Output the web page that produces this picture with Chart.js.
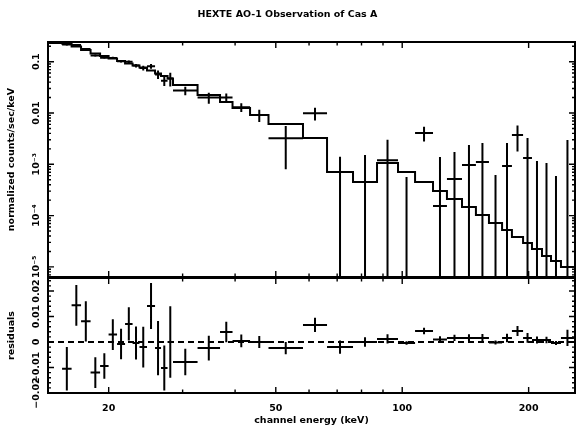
<!DOCTYPE html>
<html>
<head>
<meta charset="utf-8">
<script src="https://cdn.jsdelivr.net/npm/chart.js@4.4.0/dist/chart.umd.min.js"></script>
<style>
    html, body { margin: 0; padding: 0; background: #fff; }
    #wrap { position: relative; width: 578px; height: 429px; }
    #topBox { position: absolute; left: 0; top: 0; }
    #botBox { position: absolute; left: 0; top: 277px; }
</style>
</head>
<body>
<div id="wrap">
    <div id="topBox"><canvas id="specChart" width="578" height="278"></canvas></div>
    <div id="botBox"><canvas id="resChart" width="578" height="152"></canvas></div>
</div>
<script>
// channel bin edges (keV)
const binEdges = [14.34, 15.49, 16.32, 17.19, 18.11, 19.08, 19.99, 20.94, 21.88, 22.80,
    23.68, 24.68, 25.79, 26.65, 27.62, 28.46, 32.56, 36.83, 39.44, 43.42,
    48.04, 58.04, 66.22, 76.36, 87.10, 97.72, 107.3, 118.4, 127.8, 138.8,
    149.8, 160.9, 172.9, 182.5, 194.0, 203.7, 215.2, 226.1, 238.8, 256.4];

// folded model, counts/sec/keV
const modelRate = [0.2314, 0.2264, 0.1978, 0.1690, 0.1445, 0.1292, 0.1154, 0.1032, 0.0922, 0.0843,
    0.0771, 0.0674, 0.0589, 0.0526, 0.0470, 0.0351, 0.02244, 0.01639, 0.01252, 0.00914,
    0.00610, 0.00326, 7.08e-4, 4.52e-4, 1.06e-3, 7.08e-4, 4.52e-4, 3.02e-4, 2.11e-4, 1.47e-4,
    1.03e-4, 7.17e-5, 5.24e-5, 3.83e-5, 2.92e-5, 2.23e-5, 1.63e-5, 1.30e-5, 9.96e-6];

// measured rate and 1-sigma error
const dataRate = [null, 0.2159, 0.2122, 0.1771, 0.1325, 0.1198, 0.1183, 0.1024, 0.0993, 0.0839,
    0.0751, 0.0815, 0.0565, 0.0424, 0.0470, 0.0273, 0.0200, 0.0200, 0.0129, 0.0091,
    0.0032, 0.0099, -0.0012, -0.0003, 0.0012, -0.0001, 0.00407, 1.54e-4, 5.17e-4, 9.68e-4,
    1.11e-3, -0.0002, 9.27e-4, 3.73e-3, 1.33e-3, -0.0002, -0.0002, -0.0002, -0.0002];
const dataErr = [null, 0.0085, 0.008, 0.0079, 0.006, 0.005, 0.006, 0.006, 0.0065, 0.0065,
    0.008, 0.009, 0.0106, 0.0088, 0.014, 0.0052, 0.0049, 0.004, 0.0025, 0.0024,
    0.0024, 0.0028, 0.0026, 0.00182, 0.0018, 6.65e-4, 0.0013, 0.00124, 0.00122, 0.00141,
    0.00149, 8.2e-4, 0.00167, 0.00195, 0.00193, 0.00136, 0.00126, 7.9e-4, 0.00318];

// residuals (data - model)
const residual = [null, -0.0105, 0.0144, 0.0081, -0.012, -0.0094, 0.0029, -0.0008, 0.0071, -0.0004,
    -0.002, 0.0141, -0.0024, -0.0102, 0, -0.0078, -0.0024, 0.0039, 0.0004, 0,
    -0.0024, 0.0067, -0.002, 0, 0.0012, -0.0004, 0.0043, 0.001, 0.0016, 0.0016,
    0.0016, -0.0002, 0.0016, 0.0043, 0.0016, 0.0008, 0.0008, -0.0004, 0.0016];

// axes
const xRange = [14.34, 257.9];
const specRange = [6.35e-6, 0.242];
const resRange = [-0.0200, 0.0251];
const xTickLabels = [20, 50, 100, 200];
const xMinorTicks = [30, 40, 60, 70, 80, 90];
const specTicks = [0.1, 0.01, 1e-3, 1e-4, 1e-5];
const specTickLabels = ['0.1', '0.01', '10⁻³', '10⁻⁴', '10⁻⁵'];
const resTicks = [-0.02, -0.01, 0, 0.01, 0.02];
const resTickLabels = ['−0.02', '−0.01', '0', '0.01', '0.02'];

Chart.defaults.font.family = 'DejaVu Sans';
Chart.defaults.font.size = 9.5;
Chart.defaults.font.weight = 'bold';
Chart.defaults.color = '#000';

function stepPoints(values) {
    const pts = values.map((v, i) => ({ x: binEdges[i], y: v }));
    pts.push({ x: binEdges[binEdges.length - 1], y: values[values.length - 1] });
    return pts;
}

// crosses: horizontal bin width + vertical error, split by null gaps
function crossPoints(values, errs, floor) {
    const h = [], v = [];
    values.forEach((val, i) => {
        if (val === null) return;
        const lo = binEdges[i], hi = binEdges[i + 1];
        const mid = Math.sqrt(lo * hi);
        if (floor === null || val > 0) {
            h.push({ x: lo, y: val }, { x: hi, y: val }, { x: hi, y: null });
        }
        let bottom = val - errs[i];
        if (floor !== null && bottom <= 0) bottom = floor;
        v.push({ x: mid, y: bottom }, { x: mid, y: val + errs[i] }, { x: mid, y: null });
    });
    return { h, v };
}

function lineSet(data, extra) {
    return Object.assign({
        data: data,
        borderColor: '#000',
        borderWidth: 2,
        pointRadius: 0,
        fill: false,
        spanGaps: false,
        tension: 0
    }, extra || {});
}

// frame, inward ticks and rotated y labels
const framePlugin = {
    id: 'frame',
    afterDatasetsDraw(chart, args, opts) {
        const { ctx, chartArea: a, scales } = chart;
        ctx.save();
        ctx.strokeStyle = '#000';
        ctx.lineWidth = 1.4;
        ctx.beginPath();
        xTickLabels.concat(xMinorTicks).forEach(v => {
            const len = xTickLabels.includes(v) ? 6 : 3.5;
            const px = scales.x.getPixelForValue(v);
            ctx.moveTo(px, a.top); ctx.lineTo(px, a.top + len);
            ctx.moveTo(px, a.bottom); ctx.lineTo(px, a.bottom - len);
        });
        opts.major.forEach(v => {
            const py = scales.y.getPixelForValue(v);
            ctx.moveTo(a.left, py); ctx.lineTo(a.left + 6, py);
            ctx.moveTo(a.right, py); ctx.lineTo(a.right - 6, py);
        });
        opts.minor.forEach(v => {
            const py = scales.y.getPixelForValue(v);
            if (py < a.top || py > a.bottom) return;
            ctx.moveTo(a.left, py); ctx.lineTo(a.left + 3, py);
            ctx.moveTo(a.right, py); ctx.lineTo(a.right - 3, py);
        });
        ctx.stroke();

        ctx.lineWidth = 2;
        ctx.strokeRect(a.left, a.top, a.right - a.left, a.bottom - a.top);

        ctx.fillStyle = '#000';
        ctx.font = 'bold 9.5px "DejaVu Sans"';
        ctx.textAlign = 'center';
        ctx.textBaseline = 'middle';
        opts.major.forEach((v, i) => {
            const py = scales.y.getPixelForValue(v);
            ctx.save();
            ctx.translate(37, py);
            ctx.rotate(-Math.PI / 2);
            ctx.fillText(opts.labels[i], 0, 0);
            ctx.restore();
        });
        ctx.restore();
    }
};

function logMinor(min, max) {
    const out = [];
    for (let e = Math.floor(Math.log10(min)); e <= Math.ceil(Math.log10(max)); e++) {
        for (let m = 2; m <= 9; m++) out.push(m * Math.pow(10, e));
    }
    return out;
}

function linMinor(min, max, step) {
    const out = [];
    for (let k = Math.ceil(min / step); k * step <= max; k++) out.push(k * step);
    return out;
}

const yTitle = (text) => ({
    display: true,
    text: text,
    font: { size: 9.5, weight: 'bold' },
    padding: { top: 6, bottom: 0 }
});

// top panel: spectrum
const specCross = crossPoints(dataRate, dataErr, specRange[0]);
new Chart(document.getElementById('specChart'), {
    type: 'line',
    data: {
        datasets: [
            lineSet(stepPoints(modelRate), { stepped: true }),
            lineSet(specCross.h),
            lineSet(specCross.v)
        ]
    },
    options: {
        responsive: false,
        animation: false,
        layout: { padding: { left: 0, right: 3, top: 0, bottom: 1 } },
        plugins: {
            legend: { display: false },
            tooltip: { enabled: false },
            title: {
                display: true,
                text: 'HEXTE AO-1 Observation of Cas A',
                font: { size: 9.5, weight: 'bold' },
                padding: { top: 9, bottom: 21.6 }
            },
            frame: {
                major: specTicks,
                minor: logMinor(specRange[0], specRange[1]),
                labels: specTickLabels
            }
        },
        scales: {
            x: { type: 'logarithmic', min: xRange[0], max: xRange[1], display: false },
            y: {
                type: 'logarithmic',
                min: specRange[0],
                max: specRange[1],
                ticks: { display: false },
                grid: { display: false },
                border: { display: false },
                title: yTitle('normalized counts/sec/keV'),
                afterFit: s => { s.width = 48; }
            }
        }
    },
    plugins: [framePlugin]
});

// bottom panel: residuals
const resCross = crossPoints(residual, dataErr, null);
new Chart(document.getElementById('resChart'), {
    type: 'line',
    data: {
        datasets: [
            lineSet([{ x: xRange[0], y: 0 }, { x: xRange[1], y: 0 }], { borderDash: [6, 4] }),
            lineSet(resCross.h),
            lineSet(resCross.v)
        ]
    },
    options: {
        responsive: false,
        animation: false,
        layout: { padding: { left: 0, right: 3, top: 1, bottom: 0 } },
        plugins: {
            legend: { display: false },
            tooltip: { enabled: false },
            frame: {
                major: resTicks,
                minor: linMinor(resRange[0], resRange[1], 0.002),
                labels: resTickLabels
            }
        },
        scales: {
            x: {
                type: 'logarithmic',
                min: xRange[0],
                max: xRange[1],
                grid: { display: false },
                border: { display: false },
                ticks: { autoSkip: false, maxRotation: 0, padding: 2, callback: v => String(v) },
                afterBuildTicks: s => { s.ticks = xTickLabels.map(v => ({ value: v })); },
                title: {
                    display: true,
                    text: 'channel energy (keV)',
                    font: { size: 9.5, weight: 'bold' },
                    padding: { top: 0, bottom: 3 }
                },
                afterFit: s => { s.height = 36; }
            },
            y: {
                type: 'linear',
                min: resRange[0],
                max: resRange[1],
                ticks: { display: false },
                grid: { display: false },
                border: { display: false },
                title: yTitle('residuals'),
                afterFit: s => { s.width = 48; }
            }
        }
    },
    plugins: [framePlugin]
});
</script>
</body>
</html>
